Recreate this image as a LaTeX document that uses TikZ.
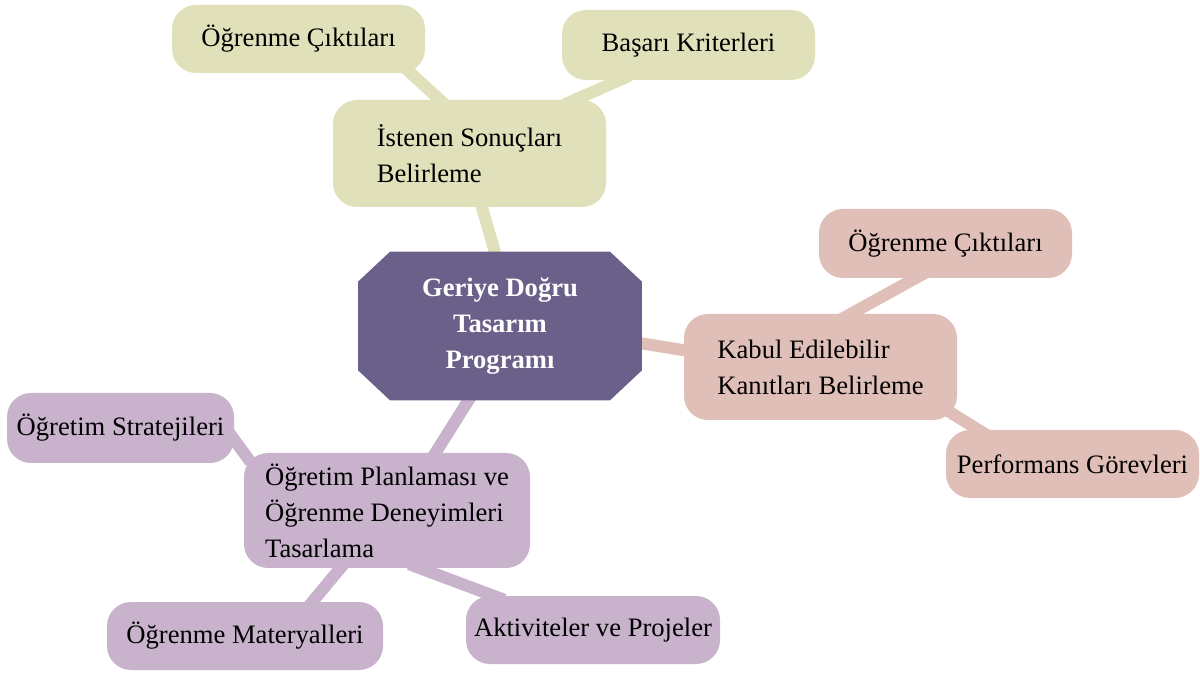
\documentclass[tikz,border=0pt]{standalone}
\usepackage{fontspec}
\setmainfont{Liberation Serif}
\usetikzlibrary{backgrounds}
\definecolor{koyu}{RGB}{106,96,138}
\definecolor{zeytin}{RGB}{224,224,186}
\definecolor{pembe}{RGB}{224,191,184}
\definecolor{lila}{RGB}{200,178,204}

\begin{document}
\begin{tikzpicture}[x=0.5pt,y=-0.5pt,
		every node/.style={font=\fontsize{13.3}{18}\selectfont, inner sep=0pt},
		kok/.style={rectangle, text=white, font=\fontsize{13.3}{18}\selectfont\bfseries, align=center,
			minimum width=141.5pt, minimum height=74pt},
		kutu/.style={rectangle, rounded corners=12pt, fill=#1, align=left},
		bag/.style={line width=6pt, draw=#1, shorten <=-6pt, shorten >=-6pt}]
			\useasboundingbox (0,0) rectangle (1200,673);
			% merkez
			\node[kok] (k) at (500,326) {Geriye Doğru\\Tasarım\\Programı};
			% istenen sonuçlar
			\node[kutu=zeytin, minimum width=136.5pt, minimum height=53.5pt] (s) at (469.5,153.5) {İstenen Sonuçları\\Belirleme};
			\node[kutu=zeytin, minimum width=126.5pt, minimum height=34pt] (s-1) at (298.5,39) {Öğrenme Çıktıları};
			\node[kutu=zeytin, minimum width=126.5pt, minimum height=35pt] (s-2) at (688.5,45) {Başarı Kriterleri};
			% kanıtlar
			\node[kutu=pembe, minimum width=136.5pt, minimum height=53pt] (e) at (820.5,367) {Kabul Edilebilir\\Kanıtları Belirleme};
			\node[kutu=pembe, minimum width=126.5pt, minimum height=34.5pt] (e-1) at (945.5,243.5) {Öğrenme Çıktıları};
			\node[kutu=pembe, minimum width=126.5pt, minimum height=34pt] (e-2) at (1072.5,464) {Performans Görevleri};
			% öğretim planlaması
			\node[kutu=lila, minimum width=143pt, minimum height=57.5pt] (p) at (387,510.5) {Öğretim Planlaması ve\\Öğrenme Deneyimleri\\Tasarlama};
			\node[kutu=lila, minimum width=113.5pt, minimum height=35pt] (p-1) at (120.5,428) {Öğretim Stratejileri};
			\node[kutu=lila, minimum width=138pt, minimum height=34pt] (p-2) at (245,636) {Öğrenme Materyalleri};
			\node[kutu=lila, minimum width=127pt, minimum height=34pt] (p-3) at (593,630) {Aktiviteler ve Projeler};
			\begin{scope}[on background layer]
				\path
				(k.94) edge[bag=zeytin] (s.-77)
				(s.119) edge[bag=zeytin] (s-1.-17.5)
				(s.27) edge[bag=zeytin] (s-2.-153)
				(k.-7.7) edge[bag=pembe] (e.173.7)
				(e.60.9) edge[bag=pembe] (e-1.-131.5)
				(e.-20.3) edge[bag=pembe] (e-2.160)
				(k.-113.4) edge[bag=lila] (p.50.1)
				(p.158) edge[bag=lila] (p-1.-6.1)
				(p.-129.3) edge[bag=lila] (p-2.27.6)
				(p.-60.1) edge[bag=lila] (p-3.161.9);
				% sekizgen
				\fill[koyu] ([xshift=16pt]k.north west) -- ([xshift=-16pt]k.north east)
					-- ([yshift=-15pt]k.north east) -- ([yshift=15pt]k.south east)
					-- ([xshift=-16pt]k.south east) -- ([xshift=16pt]k.south west)
					-- ([yshift=15pt]k.south west) -- ([yshift=-15pt]k.north west) -- cycle;
			\end{scope}
		\end{tikzpicture}
\end{document}
